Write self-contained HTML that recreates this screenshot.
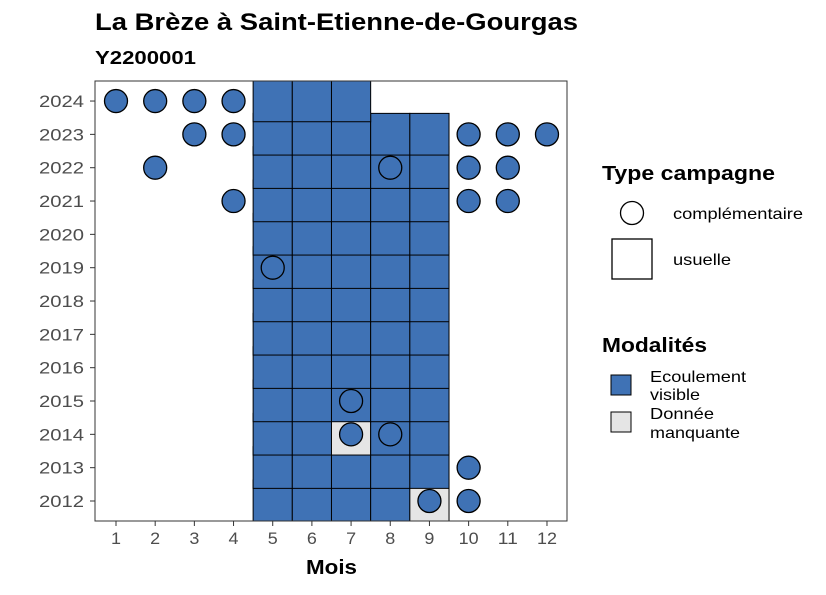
<!DOCTYPE html>
<html><head><meta charset="utf-8"><style>
body{margin:0;background:#fff;font-family:"Liberation Sans",sans-serif}
</style></head><body>
<svg id="c" width="826" height="590" xmlns="http://www.w3.org/2000/svg">
<defs><clipPath id="pc"><rect x="95" y="81" width="472" height="440"/></clipPath></defs>
<text x="95" y="30" font-size="24" font-weight="bold" fill="#000" textLength="483" lengthAdjust="spacingAndGlyphs">La Brèze à Saint-Etienne-de-Gourgas</text>
<text x="95" y="64" font-size="18" font-weight="bold" fill="#000" textLength="101" lengthAdjust="spacingAndGlyphs">Y2200001</text>
<g id="tiles" clip-path="url(#pc)"></g>
<g id="plot"></g>
<rect x="95" y="81" width="472" height="440" fill="none" stroke="#333" stroke-width="1"/>
<text x="306" y="574" font-size="20" font-weight="bold" textLength="51" lengthAdjust="spacingAndGlyphs">Mois</text>
<text x="602" y="180" font-size="20" font-weight="bold" textLength="173" lengthAdjust="spacingAndGlyphs">Type campagne</text>
<circle cx="632" cy="213" r="11.5" fill="#fff" stroke="#000" stroke-width="1.3"/>
<text x="673" y="219" font-size="16" textLength="130" lengthAdjust="spacingAndGlyphs">complémentaire</text>
<rect x="612" y="239" width="40" height="40" fill="#fff" stroke="#000" stroke-width="1.3"/>
<text x="673" y="265" font-size="16" textLength="58" lengthAdjust="spacingAndGlyphs">usuelle</text>
<text x="602" y="352" font-size="20" font-weight="bold" textLength="105" lengthAdjust="spacingAndGlyphs">Modalités</text>
<rect x="611" y="375" width="20" height="20" fill="#3f72b5" stroke="#000"/>
<text x="650" y="382" font-size="16" textLength="96" lengthAdjust="spacingAndGlyphs">Ecoulement</text>
<text x="650" y="400" font-size="16" textLength="50" lengthAdjust="spacingAndGlyphs">visible</text>
<rect x="611" y="412" width="20" height="20" fill="#e5e5e5" stroke="#000"/>
<text x="650" y="419" font-size="16" textLength="64" lengthAdjust="spacingAndGlyphs">Donnée</text>
<text x="650" y="438" font-size="16" textLength="90" lengthAdjust="spacingAndGlyphs">manquante</text>
</svg>
<script>
const years=[2012,2013,2014,2015,2016,2017,2018,2019,2020,2021,2022,2023,2024];
const months=[1,2,3,4,5,6,7,8,9,10,11,12];
// tiles: [year, month, state] state: 1 = écoulement visible, 0 = donnée manquante
const tiles=[];
for(let y=2012;y<=2023;y++)for(let m=5;m<=9;m++){let s=1;if((y===2014&&m===7)||(y===2012&&m===9))s=0;tiles.push([y,m,s]);}
tiles.push([2024,5,1],[2024,6,1],[2024,7,1]);
const circles=[[2024,1],[2024,2],[2024,3],[2024,4],[2023,3],[2023,4],[2023,10],[2023,11],[2023,12],[2022,2],[2022,8],[2022,10],[2022,11],[2021,4],[2021,10],[2021,11],[2019,5],[2015,7],[2014,7],[2014,8],[2013,10],[2012,9],[2012,10]];
const NS="http://www.w3.org/2000/svg";
const g=document.getElementById('plot');
const gt=document.getElementById('tiles');
const xS=m=>116+(m-1)*39.18;
const yS=y=>501-(y-2012)*33.33;
function mk(t,a,p){const e=document.createElementNS(NS,t);for(const k in a)e.setAttribute(k,a[k]);(p||g).appendChild(e);return e;}
tiles.forEach(t=>{const e=mk('rect',{x:xS(t[1])-19.6,y:yS(t[0])-21,width:39.18,height:41.7,fill:t[2]?'#3f72b5':'#e5e5e5',stroke:'#000','stroke-width':1},gt);

});
circles.forEach(c=>{const e=mk('circle',{cx:xS(c[1]),cy:yS(c[0]),r:11.5,fill:'#3f72b5',stroke:'#000','stroke-width':1.3});

});
years.forEach(y=>{const l=mk('line',{x1:90,x2:95,y1:yS(y),y2:yS(y),stroke:'#333'});


const t=mk('text',{x:84,y:yS(y)+6,'font-size':17,'text-anchor':'end',fill:'#4d4d4d',textLength:45,lengthAdjust:'spacingAndGlyphs'});t.textContent=y;

});
months.forEach(m=>{const l=mk('line',{x1:xS(m),x2:xS(m),y1:521,y2:526,stroke:'#333'});


const w=String(m).length*10;
const t=mk('text',{x:xS(m)-w/2,y:544,'font-size':17,fill:'#4d4d4d',textLength:w,lengthAdjust:'spacingAndGlyphs'});t.textContent=m;

});
</script>
</body></html>
